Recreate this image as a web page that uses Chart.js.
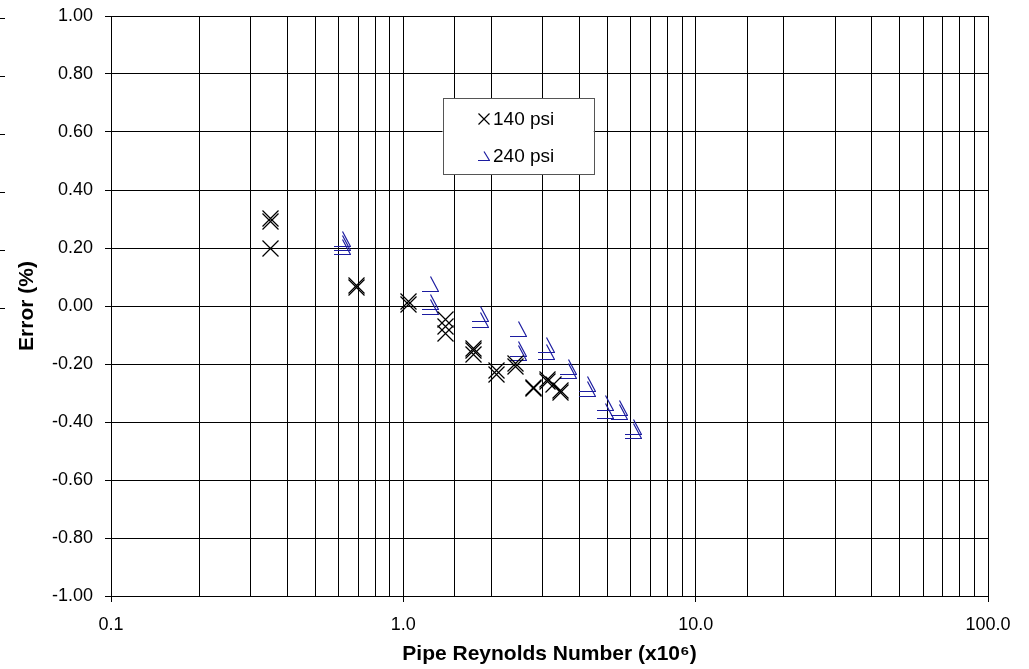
<!DOCTYPE html>
<html>
<head>
<meta charset="utf-8">
<script src="https://cdn.jsdelivr.net/npm/chart.js@4/dist/chart.umd.min.js"></script>
<style>
html,body{margin:0;padding:0;background:#fff;}
#c{display:block;}
</style>
</head>
<body>
<canvas id="c" width="1029" height="669"></canvas>
<script>
// ---- data ----
const series140Label = '140 psi';
const series140X = [0.35, 0.35, 0.35, 0.69, 0.69, 1.04, 1.04, 1.39, 1.39, 1.39, 1.74, 1.74, 1.74, 2.09, 2.09, 2.42, 2.42, 2.79, 2.79, 3.12, 3.12, 3.27, 3.44, 3.44];
const series140Y = [0.303, 0.290, 0.200, 0.065, 0.072, 0.005, 0.015, -0.048, -0.071, -0.094, -0.145, -0.155, -0.168, -0.222, -0.235, -0.198, -0.210, -0.280, -0.286, -0.255, -0.262, -0.272, -0.290, -0.298];

const series240Label = '240 psi';
const series240X = [0.62, 0.62, 0.62, 1.24, 1.24, 1.24, 1.83, 1.83, 2.48, 2.48, 2.48, 3.10, 3.10, 3.67, 3.67, 4.28, 4.28, 4.90, 4.90, 5.50, 5.50, 6.13, 6.13];
const series240Y = [0.230, 0.216, 0.202, 0.075, 0.014, -0.005, -0.028, -0.048, -0.080, -0.149, -0.163, -0.134, -0.160, -0.209, -0.224, -0.270, -0.287, -0.336, -0.361, -0.350, -0.365, -0.416, -0.430];

const xAxisTitle = 'Pipe Reynolds Number (x10\u2076)';
const yAxisTitle = 'Error (%)';
const xMin = 0.1, xMax = 100;
const yMin = -1, yMax = 1, yStep = 0.2;
const strayMarkValues = [0, 0.2, 0.4, 0.6, 0.8, 1.0];

// ---- styles ----
const FONT = "'Liberation Sans', Arial, Helvetica, sans-serif";
const BLUE = '#1c1ca0';

function makeCross(size, color) {
  const cv = document.createElement('canvas');
  cv.width = size; cv.height = size;
  const g = cv.getContext('2d');
  g.strokeStyle = color; g.lineWidth = 1.2;
  g.beginPath();
  g.moveTo(0.5, 0.5); g.lineTo(size - 0.5, size - 0.5);
  g.moveTo(size - 0.5, 0.5); g.lineTo(0.5, size - 0.5);
  g.stroke();
  return cv;
}
function makeWedge(w, h, color) {
  const cv = document.createElement('canvas');
  cv.width = w; cv.height = h;
  const g = cv.getContext('2d');
  g.strokeStyle = color; g.lineWidth = 1.2;
  g.beginPath();
  g.moveTo(0, h - 0.5); g.lineTo(w - 0.5, h - 0.5);
  g.lineTo(w / 2, 0.5);
  g.stroke();
  return cv;
}
const crossMark = makeCross(17, '#000');
const wedgeMark = makeWedge(17, 16, BLUE);
const crossLegend = makeCross(12, '#000');
const wedgeLegend = makeWedge(12, 10, BLUE);

function isDecade(v) {
  const l = Math.log10(v);
  return Math.abs(l - Math.round(l)) < 1e-9;
}

const crispPlugin = {
  id: 'crisp',
  beforeDatasetsDraw(chart) { chart.ctx.imageSmoothingEnabled = false; },
  afterDatasetsDraw(chart) { chart.ctx.imageSmoothingEnabled = true; }
};

const legendPlugin = {
  id: 'boxLegend',
  afterDraw(chart) {
    const ca = chart.chartArea;
    const ctx = chart.ctx;
    const w = ca.right - ca.left, h = ca.bottom - ca.top;
    const bx = ca.left + w * 0.378, by = ca.top + h * 0.142;
    const bw = w * 0.1725, bh = h * 0.131;
    ctx.save();
    ctx.fillStyle = '#fff';
    ctx.fillRect(bx, by, bw, bh);
    ctx.strokeStyle = '#555';
    ctx.lineWidth = 1;
    ctx.strokeRect(Math.round(bx) + 0.5, Math.round(by) + 0.5, Math.round(bw), Math.round(bh));
    ctx.font = '19px ' + FONT;
    ctx.fillStyle = '#000';
    ctx.textBaseline = 'middle';
    ctx.textAlign = 'left';
    const items = [
      {img: crossLegend, label: series140Label, dy: 21},
      {img: wedgeLegend, label: series240Label, dy: 58}
    ];
    items.forEach(it => {
      const cy = by + it.dy;
      ctx.drawImage(it.img, Math.round(bx + 41 - it.img.width / 2), Math.round(cy - it.img.height / 2));
      ctx.fillText(it.label, bx + 50.5, cy + 0.5);
    });
    ctx.restore();
  }
};

const strayPlugin = {
  id: 'strayMarks',
  afterDraw(chart) {
    const ys = chart.scales.y;
    const ctx = chart.ctx;
    ctx.save();
    ctx.strokeStyle = '#000';
    ctx.lineWidth = 1;
    strayMarkValues.forEach(v => {
      const py = Math.round(ys.getPixelForValue(v) + 2) + 0.5;
      ctx.beginPath();
      ctx.moveTo(0, py); ctx.lineTo(5, py);
      ctx.stroke();
    });
    ctx.restore();
  }
};

const ds140 = series140X.map((x, i) => ({x, y: series140Y[i]}));
const ds240 = series240X.map((x, i) => ({x, y: series240Y[i]}));

new Chart(document.getElementById('c'), {
  type: 'scatter',
  data: {
    datasets: [
      {label: series140Label, data: ds140, pointStyle: crossMark, pointRadius: 8, pointHoverRadius: 8, borderColor: '#000', backgroundColor: '#000'},
      {label: series240Label, data: ds240, pointStyle: wedgeMark, pointRadius: 8, pointHoverRadius: 8, borderColor: BLUE, backgroundColor: BLUE}
    ]
  },
  options: {
    responsive: false,
    animation: false,
    devicePixelRatio: 1,
    layout: {padding: {left: 0, right: 41, top: 16, bottom: 0}},
    plugins: {legend: {display: false}, tooltip: {enabled: false}, title: {display: false}},
    scales: {
      x: {
        type: 'logarithmic',
        min: xMin, max: xMax,
        afterFit(s) { s.height = 73; s.paddingLeft = 0; s.paddingRight = 0; },
        border: {color: '#000', width: 1},
        grid: {
          color: '#000', lineWidth: 1, drawTicks: true, tickLength: 6,
          tickColor: c => (c.tick && isDecade(c.tick.value)) ? '#000' : 'rgba(0,0,0,0)'
        },
        ticks: {
          autoSkip: false, maxRotation: 0, minRotation: 0, padding: 12,
          color: '#000', font: {family: FONT, size: 18},
          callback: v => isDecade(v) ? Number(v).toFixed(1) : ''
        },
        title: {display: true, text: xAxisTitle, color: '#000', font: {family: FONT, size: 21, weight: 'bold'}, padding: {top: 0, bottom: 2}}
      },
      y: {
        min: yMin, max: yMax,
        afterFit(s) { s.width = 111; s.paddingTop = 0; s.paddingBottom = 0; },
        border: {color: '#000', width: 1},
        grid: {color: '#000', lineWidth: 1, drawTicks: true, tickLength: 6, tickColor: '#000'},
        ticks: {
          stepSize: yStep, padding: 12, color: '#000', font: {family: FONT, size: 18},
          callback: v => (Math.abs(v) < 1e-9 ? 0 : v).toFixed(2)
        },
        title: {display: true, text: yAxisTitle, color: '#000', font: {family: FONT, size: 21, weight: 'bold'}, padding: {top: 15, bottom: 0}}
      }
    }
  },
  plugins: [crispPlugin, legendPlugin, strayPlugin]
});
</script>
</body>
</html>
